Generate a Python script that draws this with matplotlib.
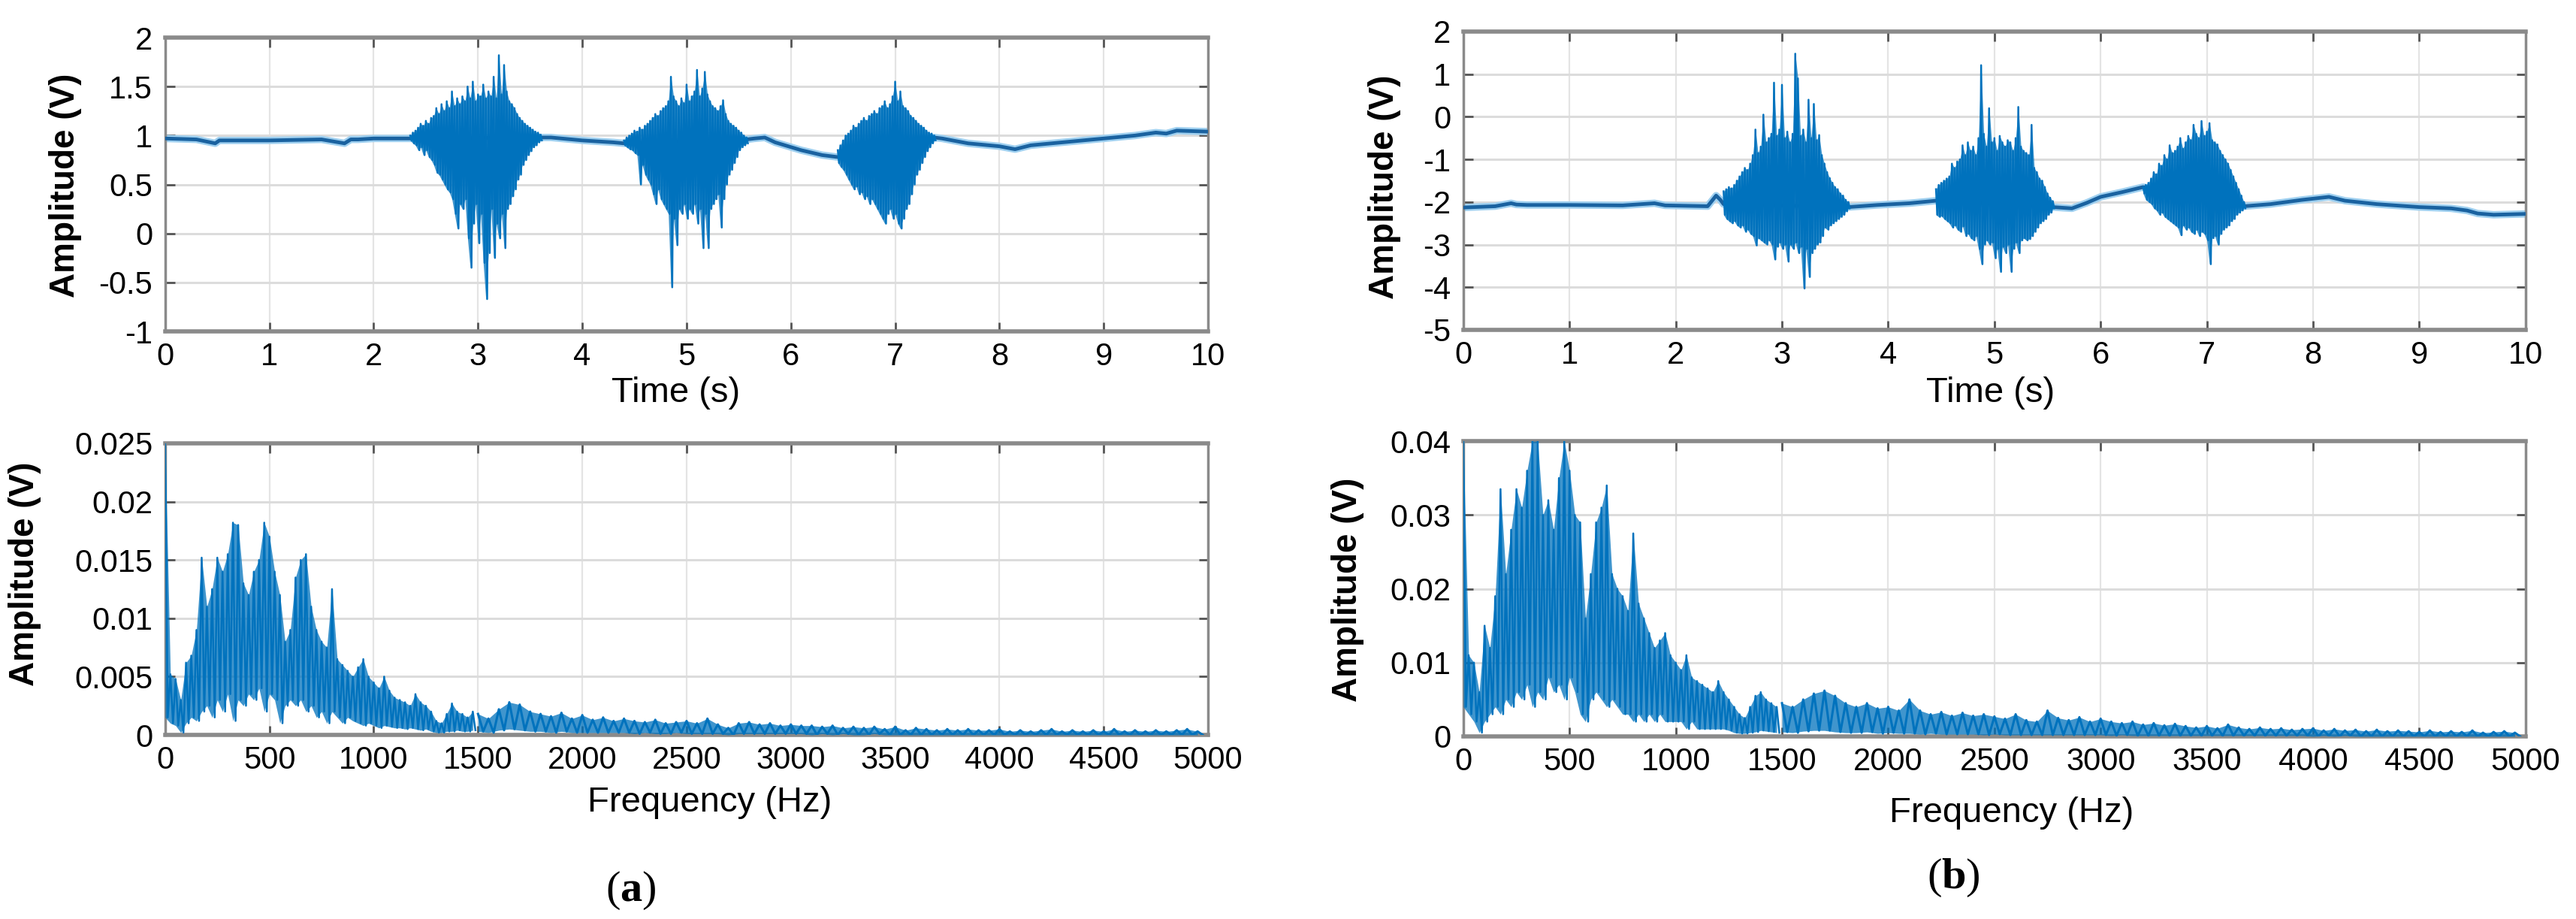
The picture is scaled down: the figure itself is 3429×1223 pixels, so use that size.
import matplotlib.pyplot as plt
import numpy as np
from matplotlib.ticker import FuncFormatter

plt.rcParams['font.family'] = ['Liberation Sans', 'DejaVu Sans']
plt.rcParams['mathtext.fontset'] = 'custom'
plt.rcParams['mathtext.rm'] = 'Liberation Serif'
plt.rcParams['mathtext.bf'] = 'Liberation Serif:bold'

# ---- data ----
T_STEP = 0.025   # s, width of one envelope bin in the bursts

# (a) time signal: slow baseline knots
ta_base = [0.0, 0.3, 0.48, 0.52, 0.6, 1.0, 1.5, 1.72, 1.78, 1.85, 2.0, 2.35,
           3.62, 3.7, 4.0, 4.3, 4.4, 5.575, 5.65, 5.75, 5.85, 6.1, 6.3, 6.45,
           7.375, 7.45, 7.7, 8.0, 8.15, 8.3, 8.7, 9.0, 9.3, 9.5, 9.6, 9.7, 10.0]
va_base = [0.97, 0.96, 0.92, 0.95, 0.95, 0.95, 0.96, 0.92, 0.96, 0.96, 0.97, 0.97,
           0.98, 0.98, 0.95, 0.93, 0.92, 0.96, 0.97, 0.98, 0.93, 0.85, 0.80, 0.78,
           0.98, 0.97, 0.92, 0.89, 0.86, 0.90, 0.94, 0.97, 1.00, 1.03, 1.02, 1.05, 1.04]

# (a) bursts: start time, upper and lower extremes per bin
a1_start = 2.35
a1_hi = [1.00, 1.03, 1.05, 1.08, 1.12, 1.10, 1.15, 1.12, 1.18, 1.20,
         1.28, 1.22, 1.32, 1.25, 1.35, 1.28, 1.45, 1.30, 1.38, 1.32,
         1.40, 1.35, 1.50, 1.38, 1.55, 1.35, 1.42, 1.40, 1.52, 1.38,
         1.45, 1.40, 1.60, 1.38, 1.82, 1.42, 1.72, 1.45, 1.35, 1.32,
         1.28, 1.22, 1.18, 1.15, 1.12, 1.10, 1.08, 1.06, 1.04, 1.03, 1.01]
a1_lo = [0.95, 0.92, 0.90, 0.85, 0.88, 0.80, 0.85, 0.78, 0.75, 0.70,
         0.62, 0.60, 0.55, 0.50, 0.45, 0.42, 0.35, 0.20, 0.05, 0.30,
         0.25, 0.35, -0.05, -0.35, 0.10, 0.30, -0.10, 0.20, -0.30, -0.67,
         -0.20, 0.25, -0.25, 0.10, -0.05, 0.20, -0.15, 0.25, 0.30, 0.38,
         0.45, 0.55, 0.60, 0.70, 0.75, 0.80, 0.84, 0.88, 0.90, 0.93, 0.95]
a2_start = 4.40
a2_hi = [0.95, 0.98, 1.00, 1.02, 1.05, 1.04, 1.08, 1.06, 1.10, 1.12,
         1.15, 1.18, 1.22, 1.20, 1.25, 1.28, 1.30, 1.35, 1.60, 1.40,
         1.35, 1.30, 1.38, 1.33, 1.52, 1.35, 1.40, 1.45, 1.67, 1.40,
         1.48, 1.65, 1.42, 1.35, 1.30, 1.28, 1.25, 1.30, 1.36, 1.22,
         1.15, 1.12, 1.10, 1.08, 1.05, 1.03, 1.00, 0.98]
a2_lo = [0.90, 0.88, 0.86, 0.85, 0.82, 0.80, 0.50, 0.70, 0.60, 0.55,
         0.50, 0.40, 0.30, 0.45, 0.35, 0.30, 0.25, 0.20, -0.55, 0.15,
         -0.12, 0.25, 0.20, 0.30, 0.15, 0.25, 0.20, 0.30, 0.10, 0.25,
         -0.15, 0.20, -0.15, 0.25, 0.30, 0.35, 0.40, 0.06, 0.35, 0.50,
         0.60, 0.65, 0.72, 0.78, 0.85, 0.88, 0.90, 0.92]
a3_start = 6.45
a3_hi = [0.85, 0.90, 0.95, 1.00, 1.02, 1.05, 1.10, 1.08, 1.12, 1.15,
         1.18, 1.15, 1.20, 1.22, 1.25, 1.22, 1.28, 1.30, 1.35, 1.28,
         1.32, 1.40, 1.55, 1.35, 1.45, 1.30, 1.28, 1.25, 1.20, 1.18,
         1.15, 1.12, 1.10, 1.08, 1.05, 1.03, 1.02, 1.00]
a3_lo = [0.72, 0.68, 0.65, 0.60, 0.55, 0.50, 0.45, 0.48, 0.40, 0.42,
         0.35, 0.38, 0.30, 0.35, 0.30, 0.25, 0.20, 0.15, 0.10, 0.20,
         0.25, 0.15, 0.20, 0.10, 0.05, 0.15, 0.25, 0.30, 0.40, 0.50,
         0.60, 0.65, 0.72, 0.78, 0.84, 0.88, 0.92, 0.95]

# (b) time signal
tb_base = [0.0, 0.3, 0.45, 0.5, 0.6, 1.0, 1.5, 1.8, 1.9, 2.3, 2.38, 2.42, 2.45,
           3.625, 3.9, 4.2, 4.45, 5.55, 5.73, 5.87, 6.0, 6.2, 6.4,
           7.35, 7.6, 7.9, 8.15, 8.3, 8.6, 9.0, 9.3, 9.45, 9.55, 9.7, 10.0]
vb_base = [-2.13, -2.10, -2.03, -2.06, -2.07, -2.07, -2.08, -2.03, -2.08, -2.10, -1.85, -1.95, -2.05,
           -2.12, -2.07, -2.03, -1.97, -2.12, -2.15, -2.02, -1.88, -1.77, -1.65,
           -2.10, -2.05, -1.95, -1.88, -1.97, -2.05, -2.12, -2.15, -2.20, -2.27, -2.30, -2.28]

b1_start = 2.45
b1_hi = [-1.75, -1.70, -1.65, -1.68, -1.60, -1.50, -1.40, -1.30, -1.20, -1.25,
         -1.10, -0.90, -0.30, -0.85, -0.70, 0.05, -0.60, -0.50, -0.40, 0.80,
         -0.45, -0.30, 0.75, -0.50, -0.35, -0.60, -0.40, 1.48, 0.90, -0.45,
         -0.30, -0.60, 0.40, -0.50, 0.30, -0.55, -0.43, -0.90, -1.10, -1.30,
         -1.44, -1.55, -1.65, -1.70, -1.80, -1.85, -1.95, -2.00]
b1_lo = [-2.30, -2.40, -2.45, -2.50, -2.45, -2.55, -2.60, -2.55, -2.70, -2.65,
         -2.75, -2.80, -3.02, -2.85, -2.90, -2.95, -3.00, -2.90, -3.00, -3.35,
         -3.05, -2.95, -3.10, -3.00, -3.40, -3.00, -3.10, -2.95, -3.20, -3.05,
         -4.03, -3.10, -3.76, -3.20, -3.10, -3.00, -2.95, -2.80, -2.60, -2.65,
         -2.55, -2.50, -2.45, -2.40, -2.35, -2.30, -2.22, -2.15]
b2_start = 4.45
b2_hi = [-1.70, -1.60, -1.55, -1.50, -1.45, -1.40, -1.10, -1.20, -1.05, -1.00,
         -0.67, -0.90, -0.60, -0.80, -0.70, -0.90, -0.50, 1.21, -0.40, -0.70,
         0.20, -0.60, -0.50, -0.80, -0.45, -0.60, -0.70, -0.55, -0.60, -0.80,
         -0.50, 0.23, -0.70, -0.80, -0.85, -0.90, -0.19, -1.20, -1.30, -1.45,
         -1.50, -1.65, -1.80, -1.90, -1.98]
b2_lo = [-2.30, -2.35, -2.33, -2.40, -2.45, -2.50, -2.60, -2.55, -2.65, -2.70,
         -2.57, -2.80, -2.75, -2.85, -2.90, -2.80, -3.10, -3.46, -3.00, -2.90,
         -3.00, -2.95, -3.32, -3.10, -3.64, -3.05, -3.20, -3.00, -3.64, -3.10,
         -2.95, -3.20, -2.90, -2.85, -2.90, -2.87, -2.80, -2.70, -2.60, -2.50,
         -2.45, -2.40, -2.30, -2.25, -2.15]
b3_start = 6.40
b3_hi = [-1.65, -1.60, -1.55, -1.45, -1.30, -1.35, -1.10, -1.15, -0.90, -1.00,
         -0.67, -0.85, -0.80, -0.70, -0.50, -0.75, -0.60, -0.45, -0.55, -0.19,
         -0.40, -0.50, -0.10, -0.45, -0.35, -0.15, -0.55, -0.60, -0.65, -0.80,
         -0.90, -1.00, -1.10, -1.25, -1.40, -1.55, -1.70, -1.85, -2.00]
b3_lo = [-1.80, -1.95, -2.00, -2.05, -2.15, -2.20, -2.30, -2.25, -2.35, -2.40,
         -2.45, -2.50, -2.55, -2.60, -2.78, -2.55, -2.65, -2.60, -2.70, -2.75,
         -2.65, -2.80, -2.70, -2.75, -2.90, -3.46, -2.85, -2.80, -3.00, -2.75,
         -2.65, -2.60, -2.55, -2.45, -2.40, -2.30, -2.25, -2.20, -2.15]

# spectra: upper/lower extremes, 25 Hz bins below 1500 Hz, 50 Hz bins above
F_LOW_STEP = 25
F_HIGH_START = 1500
F_HIGH_STEP = 50

sa_low_hi = [0.0250, 0.0052, 0.0048, 0.0030, 0.0062, 0.0068, 0.0090, 0.0152, 0.0110, 0.0125,
             0.0152, 0.0140, 0.0155, 0.0182, 0.0180, 0.0130, 0.0120, 0.0140, 0.0150, 0.0182,
             0.0170, 0.0140, 0.0120, 0.0080, 0.0090, 0.0135, 0.0150, 0.0155, 0.0110, 0.0090,
             0.0080, 0.0075, 0.0125, 0.0065, 0.0060, 0.0055, 0.0050, 0.0058, 0.0065, 0.0050,
             0.0045, 0.0040, 0.0050, 0.0038, 0.0032, 0.0030, 0.0028, 0.0025, 0.0035, 0.0028,
             0.0025, 0.0020, 0.0012, 0.0010, 0.0018, 0.0027, 0.0020, 0.0018, 0.0015, 0.0020]
sa_low_lo = [0.0015, 0.0010, 0.0008, 0.0002, 0.0010, 0.0015, 0.0012, 0.0020, 0.0025, 0.0015,
             0.0030, 0.0020, 0.0035, 0.0012, 0.0030, 0.0025, 0.0035, 0.0030, 0.0040, 0.0020,
             0.0035, 0.0030, 0.0010, 0.0025, 0.0030, 0.0025, 0.0030, 0.0020, 0.0025, 0.0015,
             0.0020, 0.0010, 0.0020, 0.0015, 0.0010, 0.0015, 0.0012, 0.0010, 0.0008, 0.0010,
             0.0008, 0.0006, 0.0008, 0.0007, 0.0006, 0.0006, 0.0005, 0.0006, 0.0005, 0.0004,
             0.0005, 0.0003, 0.0002, 0.0002, 0.0003, 0.0003, 0.0004, 0.0003, 0.0003, 0.0004]
sa_high_hi = [0.0018, 0.0014, 0.0022, 0.0028, 0.0026, 0.0020, 0.0018, 0.0016, 0.0019, 0.0014,
              0.0017, 0.0013, 0.0015, 0.0012, 0.0014, 0.0012, 0.0011, 0.0013, 0.0010, 0.0011,
              0.0012, 0.0010, 0.0014, 0.0009, 0.0006, 0.0010, 0.0011, 0.0009, 0.0010, 0.0008,
              0.0009, 0.0008, 0.0008, 0.0007, 0.0008, 0.0006, 0.0007, 0.0006, 0.0007, 0.0005,
              0.0007, 0.0004, 0.0006, 0.0005, 0.0004, 0.0005, 0.0004, 0.0005, 0.0004, 0.0004,
              0.0005, 0.0003, 0.0004, 0.0003, 0.0004, 0.0005, 0.0003, 0.0004, 0.0003, 0.0004,
              0.0003, 0.0005, 0.0003, 0.0004, 0.0003, 0.0004, 0.0003, 0.0004, 0.0005, 0.0003]
sa_high_lo = [0.0003, 0.0002, 0.0004, 0.0005, 0.0004, 0.0003, 0.0003, 0.0002, 0.0003, 0.0002,
              0.0002, 0.0002, 0.0002, 0.0002, 0.0002, 0.0001, 0.0002, 0.0001, 0.0001, 0.0002,
              0.0001, 0.0001, 0.0001, 0.0001, 0.0000, 0.0001, 0.0001, 0.0001, 0.0001, 0.0001,
              0.0001, 0.0001, 0.0000, 0.0001, 0.0000, 0.0001, 0.0000, 0.0000, 0.0001, 0.0000,
              0.0000, 0.0000, 0.0000, 0.0000, 0.0000, 0.0000, 0.0000, 0.0000, 0.0000, 0.0000,
              0.0000, 0.0000, 0.0000, 0.0000, 0.0000, 0.0000, 0.0000, 0.0000, 0.0000, 0.0000,
              0.0000, 0.0000, 0.0000, 0.0000, 0.0000, 0.0000, 0.0000, 0.0000, 0.0000, 0.0000]

sb_low_hi = [0.0400, 0.0110, 0.0100, 0.0060, 0.0150, 0.0120, 0.0190, 0.0335, 0.0220, 0.0280,
             0.0335, 0.0310, 0.0360, 0.0400, 0.0400, 0.0300, 0.0320, 0.0280, 0.0350, 0.0400,
             0.0360, 0.0300, 0.0290, 0.0160, 0.0220, 0.0290, 0.0310, 0.0340, 0.0220, 0.0200,
             0.0190, 0.0170, 0.0275, 0.0180, 0.0160, 0.0140, 0.0120, 0.0130, 0.0140, 0.0110,
             0.0100, 0.0090, 0.0110, 0.0080, 0.0075, 0.0070, 0.0065, 0.0060, 0.0075, 0.0060,
             0.0050, 0.0040, 0.0030, 0.0025, 0.0040, 0.0055, 0.0060, 0.0050, 0.0045, 0.0040]
sb_low_lo = [0.0040, 0.0030, 0.0020, 0.0005, 0.0020, 0.0030, 0.0040, 0.0030, 0.0050, 0.0040,
             0.0060, 0.0050, 0.0070, 0.0040, 0.0060, 0.0050, 0.0080, 0.0060, 0.0070, 0.0050,
             0.0080, 0.0060, 0.0030, 0.0020, 0.0050, 0.0060, 0.0050, 0.0040, 0.0050, 0.0040,
             0.0030, 0.0030, 0.0020, 0.0030, 0.0020, 0.0030, 0.0020, 0.0030, 0.0020, 0.0020,
             0.0020, 0.0020, 0.0010, 0.0020, 0.0010, 0.0010, 0.0010, 0.0010, 0.0010, 0.0010,
             0.0008, 0.0005, 0.0004, 0.0004, 0.0005, 0.0006, 0.0008, 0.0007, 0.0006, 0.0005]
sb_high_hi = [0.0045, 0.0040, 0.0050, 0.0058, 0.0062, 0.0055, 0.0045, 0.0040, 0.0045, 0.0038,
              0.0040, 0.0035, 0.0050, 0.0035, 0.0030, 0.0033, 0.0028, 0.0032, 0.0028, 0.0030,
              0.0027, 0.0024, 0.0030, 0.0022, 0.0020, 0.0035, 0.0025, 0.0022, 0.0026, 0.0020,
              0.0024, 0.0020, 0.0018, 0.0020, 0.0016, 0.0018, 0.0015, 0.0017, 0.0014, 0.0012,
              0.0014, 0.0011, 0.0016, 0.0012, 0.0010, 0.0012, 0.0010, 0.0011, 0.0009, 0.0010,
              0.0011, 0.0008, 0.0010, 0.0008, 0.0009, 0.0007, 0.0009, 0.0007, 0.0008, 0.0007,
              0.0006, 0.0008, 0.0006, 0.0007, 0.0006, 0.0008, 0.0005, 0.0006, 0.0007, 0.0005]
sb_high_lo = [0.0006, 0.0005, 0.0007, 0.0008, 0.0008, 0.0006, 0.0005, 0.0005, 0.0006, 0.0004,
              0.0005, 0.0004, 0.0004, 0.0003, 0.0004, 0.0003, 0.0003, 0.0003, 0.0003, 0.0002,
              0.0003, 0.0002, 0.0002, 0.0002, 0.0002, 0.0002, 0.0002, 0.0002, 0.0002, 0.0002,
              0.0002, 0.0001, 0.0002, 0.0001, 0.0001, 0.0001, 0.0001, 0.0001, 0.0001, 0.0001,
              0.0001, 0.0001, 0.0001, 0.0001, 0.0001, 0.0001, 0.0001, 0.0001, 0.0001, 0.0001,
              0.0000, 0.0001, 0.0000, 0.0001, 0.0000, 0.0000, 0.0000, 0.0000, 0.0000, 0.0000,
              0.0000, 0.0000, 0.0000, 0.0000, 0.0000, 0.0000, 0.0000, 0.0000, 0.0000, 0.0000]

time_ticks = list(range(0, 11))
freq_ticks = list(range(0, 5001, 500))
ya_ticks = [-1, -0.5, 0, 0.5, 1, 1.5, 2]
yb_ticks = [-5, -4, -3, -2, -1, 0, 1, 2]
sa_ticks = [0, 0.005, 0.01, 0.015, 0.02, 0.025]
sb_ticks = [0, 0.01, 0.02, 0.03, 0.04]

LINE = '#0072BD'
BASE = '#1a62a0'


def zigzag(x0, step, hi, lo):
    # alternate upper and lower extremes so the line looks like a dense signal
    hi = np.asarray(hi, dtype=float)
    lo = np.asarray(lo, dtype=float)
    x_hi = x0 + step * np.arange(len(hi))
    x_lo = x_hi + step / 2.0
    return np.column_stack([x_hi, x_lo]).ravel(), np.column_stack([hi, lo]).ravel()


def dense_trace(ax, x0, step, hi, lo, lw=1.8):
    # solid body between the extremes plus the zigzag line for the spiky texture
    x_hi = x0 + step * np.arange(len(hi))
    ax.fill_between(x_hi, lo, hi, color=LINE, alpha=0.75, lw=0, zorder=4)
    xs, ys = zigzag(x0, step, hi, lo)
    ax.plot(xs, ys, color=LINE, lw=lw, zorder=5)


def style(ax, xticks, yticks, xlim, ylim):
    ax.set_xlim(xlim)
    ax.set_ylim(ylim)
    ax.set_xticks(xticks)
    ax.set_yticks(yticks)
    ax.xaxis.set_major_formatter(FuncFormatter(lambda v, p: '%g' % v))
    ax.yaxis.set_major_formatter(FuncFormatter(lambda v, p: '%g' % v))
    ax.tick_params(direction='in', length=9, width=2, color='#555555',
                   labelsize=30, top=True, right=True)
    ax.tick_params(axis='x', pad=10)
    ax.tick_params(axis='y', pad=12)
    ax.grid(True, axis='y', color='#dcdcdc', lw=2.2)
    ax.grid(True, axis='x', color='#e4e4e4', lw=1.6)
    ax.set_axisbelow(True)
    for s in ax.spines.values():
        s.set_color('#8a8a8a')
        s.set_linewidth(2.5)
    ax.spines['top'].set_linewidth(4)
    ax.spines['bottom'].set_linewidth(4)


def labels(ax, xlab, xpos, ypos):
    ax.set_xlabel(xlab, fontsize=34)
    ax.xaxis.label.set_va('center')
    ax.xaxis.set_label_coords(*xpos)
    ax.set_ylabel('Amplitude (V)', fontsize=33, fontweight='bold')
    ax.yaxis.label.set_va('center')
    ax.yaxis.set_label_coords(*ypos)


fig = plt.figure(figsize=(34.3, 12.23), dpi=100)
ax_ta = fig.add_axes([0.0641, 0.6394, 0.4047, 0.3197])
ax_tb = fig.add_axes([0.5679, 0.6411, 0.4122, 0.3246])
ax_fa = fig.add_axes([0.0641, 0.2003, 0.4047, 0.3173])
ax_fb = fig.add_axes([0.5679, 0.1987, 0.4122, 0.3213])

# time signals
for ax, tb, vb, bursts in [
        (ax_ta, ta_base, va_base, [(a1_start, a1_hi, a1_lo), (a2_start, a2_hi, a2_lo), (a3_start, a3_hi, a3_lo)]),
        (ax_tb, tb_base, vb_base, [(b1_start, b1_hi, b1_lo), (b2_start, b2_hi, b2_lo), (b3_start, b3_hi, b3_lo)])]:
    ax.plot(tb, vb, color='#9fd0f0', lw=7, solid_joinstyle='round', zorder=2)
    ax.plot(tb, vb, color=BASE, lw=3.5, solid_joinstyle='round', zorder=3)
    for start, hi, lo in bursts:
        dense_trace(ax, start, T_STEP, hi, lo)

style(ax_ta, time_ticks, ya_ticks, (0, 10), (-1, 2))
style(ax_tb, time_ticks, yb_ticks, (0, 10), (-5, 2))
labels(ax_ta, 'Time (s)', (0.490, -0.210), (-0.0958, 0.496))
labels(ax_tb, 'Time (s)', (0.496, -0.212), (-0.0743, 0.479))

# spectra
for ax, lh, ll, hh, hl in [(ax_fa, sa_low_hi, sa_low_lo, sa_high_hi, sa_high_lo),
                           (ax_fb, sb_low_hi, sb_low_lo, sb_high_hi, sb_high_lo)]:
    dense_trace(ax, 0, F_LOW_STEP, lh, ll)
    dense_trace(ax, F_HIGH_START, F_HIGH_STEP, hh, hl, lw=2.2)

style(ax_fa, freq_ticks, sa_ticks, (0, 5000), (0, 0.025))
style(ax_fb, freq_ticks, sb_ticks, (0, 5000), (0, 0.04))
labels(ax_fa, 'Frequency (Hz)', (0.522, -0.232), (-0.1347, 0.552))
labels(ax_fb, 'Frequency (Hz)', (0.516, -0.260), (-0.109, 0.496))

fig.text(0.2449, 0.031, r'($\mathbf{a}$)', fontsize=42, family='Liberation Serif',
         ha='center', va='center')
fig.text(0.758, 0.045, r'($\mathbf{b}$)', fontsize=42, family='Liberation Serif',
         ha='center', va='center')

fig.savefig('out.png', dpi=100)
